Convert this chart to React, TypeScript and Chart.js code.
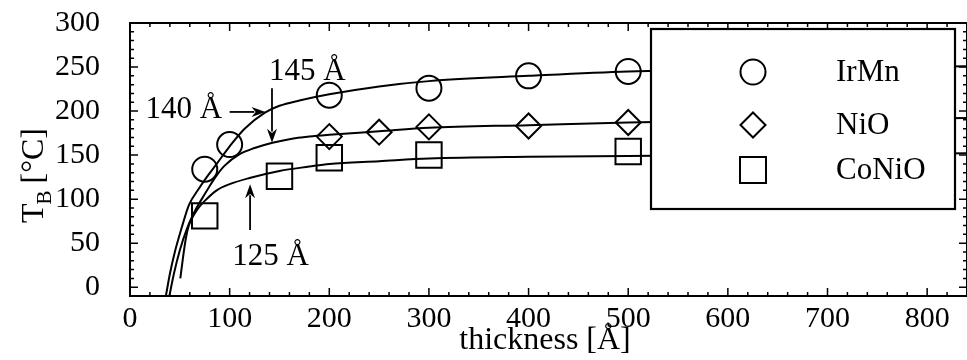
import React, { useEffect, useRef } from 'react';
import { Chart, registerables } from 'chart.js';

Chart.register(...registerables);

// ---------- axes ----------
const X_MIN = 0;
const X_MAX = 840;
const Y_MIN = -10;
const Y_MAX = 300;
const xTickValues = [0, 100, 200, 300, 400, 500, 600, 700, 800];
const yTickValues = [0, 50, 100, 150, 200, 250, 300];
const xTitle = 'thickness [Å]';

// ---------- measured points ----------
const seriesNames = ['IrMn', 'NiO', 'CoNiO'];

const irmnThickness = [75, 100, 200, 300, 400, 500];
const irmnTb = [134, 162, 218, 226, 240, 245];

const nioThickness = [200, 250, 300, 400, 500];
const nioTb = [171, 176, 182, 183, 187];

const conioThickness = [75, 150, 200, 300, 500];
const conioTb = [81, 126, 147, 150, 154];

// ---------- fitted curves ----------
const irmnFitX = [36, 40, 45, 52, 59, 68, 77, 87, 100, 115, 135, 150, 170, 200, 250, 300, 400, 500, 650, 840];
const irmnFitY = [-10, 15, 40, 68, 93, 110, 125, 140, 160, 180, 198, 206, 212, 219, 228, 234, 240, 245, 248, 251];

const nioFitX = [39.5, 44, 50, 57, 64, 72, 80, 87, 95, 110, 125, 143, 160, 180, 200, 250, 300, 400, 500, 650, 840];
const nioFitY = [-10, 15, 42, 66, 84, 100, 115, 127, 138, 151, 158, 164, 168, 171, 173, 177, 181, 184, 187, 190, 192];

const conioFitX = [50.5, 53, 56, 59, 63, 68, 75, 87, 100, 120, 150, 180, 200, 250, 300, 400, 500, 650, 840];
const conioFitY = [10, 32, 55, 70, 80, 89, 98, 110, 117, 124, 132, 137, 140, 143, 146, 148, 149, 150.5, 152];

// ---------- annotations (data coordinates) ----------
const noteLabels = ['140 Å', '145 Å', '125 Å'];
const noteTextX = [54, 178, 141];
const noteTextY = [201, 245, 34];
const arrowFromX = [100, 142.5, 120.5];
const arrowFromY = [199, 226, 65];
const arrowToX = [136, 142.5, 120.5];
const arrowToY = [199, 164, 117];

const SERIF = '"Liberation Serif", "Times New Roman", serif';

const pts = (xs: number[], ys: number[]) => xs.map((x, i) => ({ x, y: ys[i] }));

function arrow(ctx: CanvasRenderingContext2D, x1: number, y1: number, x2: number, y2: number) {
  const ang = Math.atan2(y2 - y1, x2 - x1);
  const head = 14;
  const half = 5;
  ctx.beginPath();
  ctx.moveTo(x1, y1);
  ctx.lineTo(x2 - Math.cos(ang) * head * 0.8, y2 - Math.sin(ang) * head * 0.8);
  ctx.stroke();
  ctx.beginPath();
  ctx.moveTo(x2, y2);
  ctx.lineTo(x2 - Math.cos(ang) * head - Math.sin(ang) * half, y2 - Math.sin(ang) * head + Math.cos(ang) * half);
  ctx.lineTo(x2 - Math.cos(ang) * head * 0.7, y2 - Math.sin(ang) * head * 0.7);
  ctx.lineTo(x2 - Math.cos(ang) * head + Math.sin(ang) * half, y2 - Math.sin(ang) * head - Math.cos(ang) * half);
  ctx.closePath();
  ctx.fill();
}

function marker(ctx: CanvasRenderingContext2D, kind: string, cx: number, cy: number) {
  ctx.beginPath();
  if (kind === 'circle') {
    ctx.arc(cx, cy, 12.5, 0, Math.PI * 2);
  } else if (kind === 'diamond') {
    ctx.moveTo(cx - 12.5, cy);
    ctx.lineTo(cx, cy - 12.5);
    ctx.lineTo(cx + 12.5, cy);
    ctx.lineTo(cx, cy + 12.5);
    ctx.closePath();
  } else {
    ctx.rect(cx - 13, cy - 13, 26, 26);
  }
  ctx.stroke();
}

const overlayPlugin = {
  id: 'overlay',
  afterDraw(chart: any) {
    const { ctx, chartArea: a, scales } = chart;
    const xs = scales.x;
    const ys = scales.y;
    ctx.save();
    ctx.strokeStyle = '#000';
    ctx.fillStyle = '#000';

    // frame
    ctx.lineWidth = 2;
    ctx.strokeRect(a.left, a.top, a.right - a.left, a.bottom - a.top);

    // inward ticks on all sides
    ctx.lineWidth = 1.5;
    ctx.beginPath();
    for (let v = X_MIN; v <= X_MAX; v += 20) {
      const px = xs.getPixelForValue(v);
      const len = v % 100 === 0 ? 8 : 4;
      ctx.moveTo(px, a.bottom);
      ctx.lineTo(px, a.bottom - len);
      ctx.moveTo(px, a.top);
      ctx.lineTo(px, a.top + len);
    }
    for (let v = Y_MIN; v <= Y_MAX; v += 10) {
      const py = ys.getPixelForValue(v);
      const len = v % 50 === 0 ? 8 : 4;
      ctx.moveTo(a.left, py);
      ctx.lineTo(a.left + len, py);
      ctx.moveTo(a.right, py);
      ctx.lineTo(a.right - len, py);
    }
    ctx.stroke();

    // annotations
    ctx.lineWidth = 1.8;
    ctx.font = `31px ${SERIF}`;
    ctx.textAlign = 'center';
    ctx.textBaseline = 'middle';
    noteLabels.forEach((t, i) => {
      ctx.fillText(t, xs.getPixelForValue(noteTextX[i]), ys.getPixelForValue(noteTextY[i]));
      arrow(
        ctx,
        xs.getPixelForValue(arrowFromX[i]),
        ys.getPixelForValue(arrowFromY[i]),
        xs.getPixelForValue(arrowToX[i]),
        ys.getPixelForValue(arrowToY[i])
      );
    });

    // legend box
    const lx = 651, ly = 29, lw = 304, lh = 180;
    ctx.fillStyle = '#fff';
    ctx.fillRect(lx, ly, lw, lh);
    ctx.lineWidth = 2.2;
    ctx.strokeRect(lx, ly, lw, lh);
    ctx.fillStyle = '#000';
    ctx.lineWidth = 2;
    const kinds = ['circle', 'diamond', 'square'];
    const rowsY = [72, 125, 170];
    ctx.font = `31px ${SERIF}`;
    ctx.textAlign = 'left';
    ctx.textBaseline = 'middle';
    seriesNames.forEach((n, i) => {
      marker(ctx, kinds[i], 753, rowsY[i]);
      ctx.fillText(n, 836, rowsY[i] + 1);
    });

    // x title
    ctx.textAlign = 'center';
    ctx.textBaseline = 'alphabetic';
    ctx.font = `32px ${SERIF}`;
    ctx.fillText(xTitle, 545, 349);

    // y title T_B [°C]
    ctx.save();
    ctx.translate(43, 223);
    ctx.rotate(-Math.PI / 2);
    ctx.textAlign = 'left';
    ctx.font = `32px ${SERIF}`;
    ctx.fillText('T', 0, 0);
    const wT = ctx.measureText('T').width;
    ctx.font = `21px ${SERIF}`;
    ctx.fillText('B', wT - 1, 8);
    const wB = ctx.measureText('B').width;
    ctx.font = `32px ${SERIF}`;
    ctx.fillText('[°C]', wT + wB + 6, 0);
    ctx.restore();

    ctx.restore();
  },
};

export default function App() {
  const ref = useRef<HTMLCanvasElement | null>(null);

  useEffect(() => {
    if (!ref.current) return;
    const lineStyle = {
      type: 'line' as const,
      borderColor: '#000',
      borderWidth: 2,
      pointRadius: 0,
      fill: false,
      cubicInterpolationMode: 'monotone' as const,
      showLine: true,
    };
    const markerStyle = {
      type: 'scatter' as const,
      borderColor: '#000',
      backgroundColor: 'rgba(0,0,0,0)',
      borderWidth: 2,
      showLine: false,
    };
    const chart = new Chart(ref.current, {
      type: 'scatter',
      data: {
        datasets: [
          { ...lineStyle, label: 'IrMn fit', data: pts(irmnFitX, irmnFitY) },
          { ...lineStyle, label: 'NiO fit', data: pts(nioFitX, nioFitY) },
          { ...lineStyle, label: 'CoNiO fit', data: pts(conioFitX, conioFitY) },
          { ...markerStyle, label: seriesNames[0], data: pts(irmnThickness, irmnTb), pointStyle: 'circle', pointRadius: 12.5 },
          { ...markerStyle, label: seriesNames[1], data: pts(nioThickness, nioTb), pointStyle: 'rectRot', pointRadius: 12.5 },
          { ...markerStyle, label: seriesNames[2], data: pts(conioThickness, conioTb), pointStyle: 'rect', pointRadius: 18 },
        ] as any,
      },
      options: {
        animation: false,
        responsive: false,
        devicePixelRatio: 1,
        layout: { autoPadding: false, padding: { top: 23, right: -3, left: 0, bottom: 0 } },
        plugins: {
          legend: { display: false },
          tooltip: { enabled: false },
        },
        scales: {
          x: {
            type: 'linear',
            min: X_MIN,
            max: X_MAX,
            afterBuildTicks: (s: any) => {
              s.ticks = xTickValues.map((v) => ({ value: v }));
            },
            afterFit: (s: any) => {
              s.height = 64;
              s.paddingLeft = 0;
              s.paddingRight = 0;
            },
            grid: { display: false, drawTicks: false },
            border: { display: false },
            ticks: {
              color: '#000',
              padding: 5,
              maxRotation: 0,
              autoSkip: false,
              font: { family: SERIF, size: 30 },
            },
          },
          y: {
            type: 'linear',
            min: Y_MIN,
            max: Y_MAX,
            afterBuildTicks: (s: any) => {
              s.ticks = yTickValues.map((v) => ({ value: v }));
            },
            afterFit: (s: any) => {
              s.width = 130;
              s.paddingTop = 0;
              s.paddingBottom = 0;
            },
            grid: { display: false, drawTicks: false },
            border: { display: false },
            ticks: {
              color: '#000',
              padding: 30,
              autoSkip: false,
              font: { family: SERIF, size: 30 },
            },
          },
        },
      },
      plugins: [overlayPlugin],
    });
    return () => chart.destroy();
  }, []);

  return (
    <div style={{ position: 'absolute', left: 0, top: 0, width: 967, height: 360, background: '#fff' }}>
      <canvas ref={ref} width={967} height={360} style={{ display: 'block' }} />
    </div>
  );
}
